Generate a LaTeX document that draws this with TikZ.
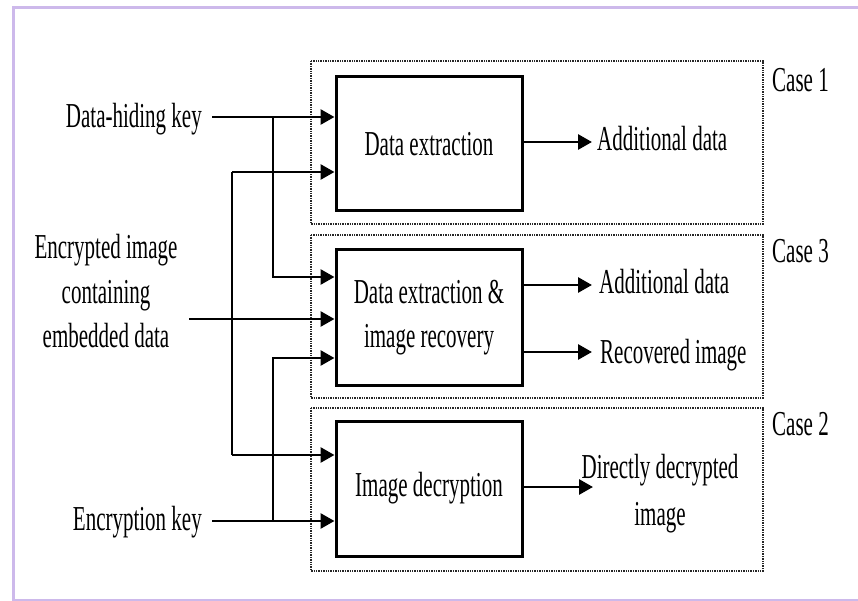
\documentclass[tikz,border=0pt]{standalone}
\usepackage{fontspec}
\newfontfamily\cond[FakeStretch=0.6]{Liberation Serif}
\usetikzlibrary{arrows.meta}
\begin{document}
\begin{tikzpicture}[x=1pt,y=-1pt,
  lbl/.style={font=\cond\fontsize{35}{44.5}\selectfont, inner sep=0pt},
  blk/.style={draw, line width=3pt, minimum width=186pt, minimum height=134pt, inner sep=0pt, lbl, align=center},
  wire/.style={line width=2.8pt},
  arr/.style={wire, -{Triangle[length=14pt,width=15pt]}},
  grp/.style={densely dotted, line width=1.4pt, draw=black!85},
]
\useasboundingbox (0,0) rectangle (858,601);
\draw[line width=3pt, draw={rgb,255:red,205;green,185;blue,235}] (13,8) rectangle (872,600);

% case groups
\draw[grp] (311,61) rectangle (763,224);
\draw[grp] (311,235) rectangle (763,398);
\draw[grp] (311,408) rectangle (763,571);
\node[lbl, anchor=base west] (case1) at (772,92) {Case 1};
\node[lbl, anchor=base west] (case3) at (772,263) {Case 3};
\node[lbl, anchor=base west] (case2) at (772,435) {Case 2};

% blocks
\node[blk] (b1) at (429,144) {Data extraction};
\node[blk, minimum height=135pt] (b2) at (429,317.5) {Data extraction \&\\image recovery};
\node[blk, minimum height=135pt] (b3) at (429,488.5) {Image decryption};

% inputs
\node[lbl, anchor=base east] (hk) at (202,128) {Data-hiding key};
\node[lbl, anchor=base, align=center] (ei) at (106,348) {Encrypted image\\containing\\embedded data};
\node[lbl, anchor=base east] (ek) at (202,530) {Encryption key};

\coordinate (hkS) at (212,117);
\coordinate (eiS) at (189,319);
\coordinate (ekS) at (212,521);
\coordinate (j1) at (273,117);
\coordinate (k1) at (273,277);
\coordinate (j2) at (273,521);
\coordinate (k2) at (273,358);
\coordinate (vt) at (232,172);
\coordinate (vb) at (232,455);

\draw[arr] (hkS) -- (hkS -| b1.west);
\draw[arr] (j1) -- (k1) -- (k1 -| b2.west);
\draw[arr] (eiS) -- (eiS -| b2.west);
\draw[wire] (vt) -- (vb);
\draw[arr] (vt) -- (vt -| b1.west);
\draw[arr] (vb) -- (vb -| b3.west);
\draw[arr] (ekS) -- (ekS -| b3.west);
\draw[arr] (j2) -- (k2) -- (k2 -| b2.west);

% outputs
\node[lbl, anchor=base west] (o1) at (597,151) {Additional data};
\node[lbl, anchor=base west] (o2) at (599,293) {Additional data};
\node[lbl, anchor=base west] (o3) at (600,363) {Recovered image};
\node[lbl, anchor=base, align=center, font=\cond\fontsize{35}{47}\selectfont] (o4) at (660,525) {Directly decrypted\\image};

\coordinate (e1) at (592,142);
\coordinate (e2) at (592,285);
\coordinate (e3) at (592,352);
\coordinate (e4) at (593,487);
\draw[arr] (e1 -| b1.east) -- (e1);
\draw[arr] (e2 -| b2.east) -- (e2);
\draw[arr] (e3 -| b2.east) -- (e3);
\draw[arr] (e4 -| b3.east) -- (e4);
\end{tikzpicture}
\end{document}
